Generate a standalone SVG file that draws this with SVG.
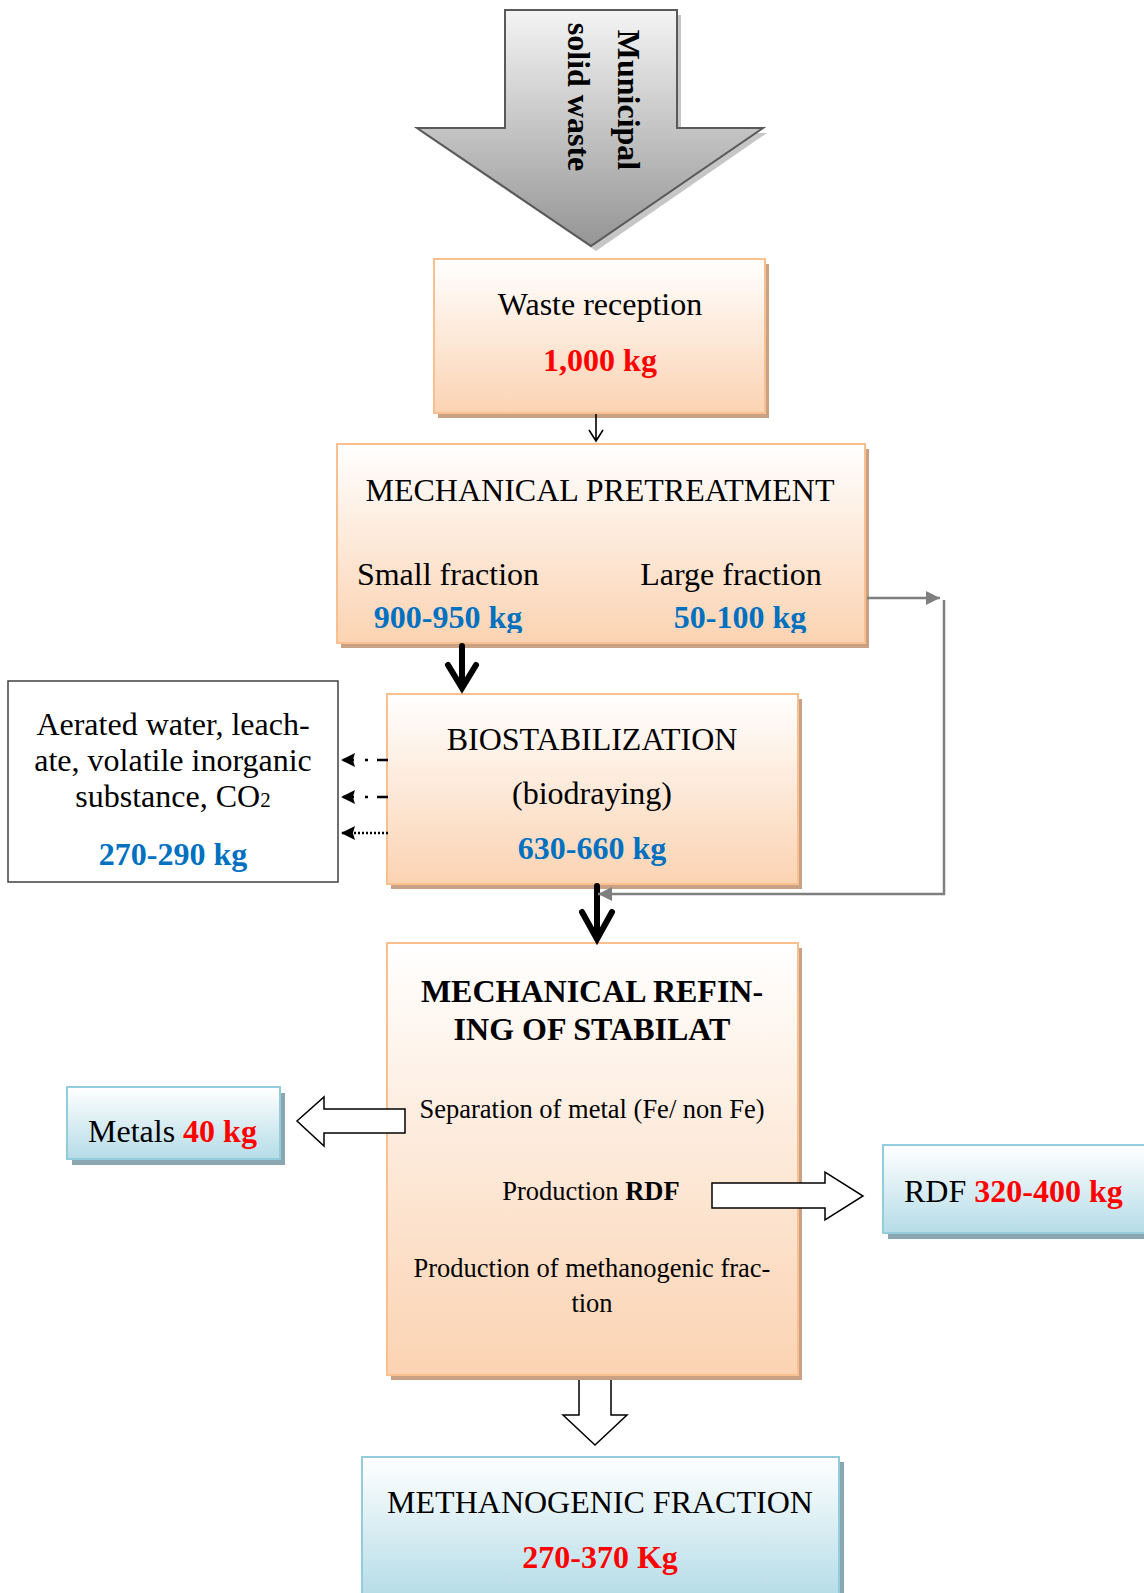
<svg xmlns="http://www.w3.org/2000/svg" width="1144" height="1593" viewBox="0 0 1144 1593">
<defs>
<linearGradient id="gOr" x1="0" y1="0" x2="0" y2="1"><stop offset="0" stop-color="#ffffff"/><stop offset="1" stop-color="#fbd3b2"/></linearGradient>
<linearGradient id="gBl" x1="0" y1="0" x2="0" y2="1"><stop offset="0" stop-color="#ffffff"/><stop offset="1" stop-color="#b5dce7"/></linearGradient>
<linearGradient id="gGr" x1="0" y1="0" x2="0" y2="1"><stop offset="0" stop-color="#f4f4f4"/><stop offset="1" stop-color="#959595"/></linearGradient>
<marker id="mGray" viewBox="0 0 10 10" refX="10" refY="5" markerWidth="16" markerHeight="14" markerUnits="userSpaceOnUse" orient="auto"><path d="M0,0 L10,5 L0,10 z" fill="#7f7f7f"/></marker>
<marker id="mBlk" viewBox="0 0 10 10" refX="10" refY="5" markerWidth="14" markerHeight="14" markerUnits="userSpaceOnUse" orient="auto"><path d="M0,0 L10,5 L0,10 L1.5,5 z" fill="#000"/></marker>
<clipPath id="clipPre"><rect x="337" y="444" width="528" height="189"/></clipPath>
</defs>
<style>
.t{font-family:"Liberation Serif","Times New Roman",serif;font-size:32px;fill:#000}
.b{font-weight:bold}
.red{fill:#ff0000}
.blue{fill:#0070c0}
.sm{font-size:26.5px}
.or{fill:url(#gOr);stroke:#f9bf8f;stroke-width:2}
.orS{fill:#c9a184}
.bl{fill:url(#gBl);stroke:#93cddd;stroke-width:2}
.blS{fill:#8aa6b1}
.hollow{fill:#fff;stroke:#000;stroke-width:1.5}
.thick{fill:none;stroke:#000;stroke-width:6;stroke-linecap:round;stroke-linejoin:miter}
</style>

<g id="input-arrow">
<polygon points="509,15 681,15 681,133 767,133 596,251 422,133 509,133" fill="#c6c6c6"/>
<polygon points="505,10 677,10 677,128 763,128 591,246 417,128 505,128" fill="url(#gGr)" stroke="#595959" stroke-width="2"/>
<text class="t b" font-size="33" text-anchor="middle" transform="translate(618,100) rotate(90)">Municipal</text>
<text class="t b" font-size="33" text-anchor="middle" transform="translate(568,97) rotate(90)">solid waste</text>
</g>

<g id="mech-down-arrow">
<path d="M579,1370 V1415 H563 L595,1445 L627,1415 H611 V1370" class="hollow"/>
</g>

<g id="waste-reception">
<rect x="438" y="264" width="331" height="154" class="orS"/>
<rect x="434" y="259" width="331" height="154" class="or"/>
<text class="t" x="600" y="315" text-anchor="middle">Waste reception</text>
<text class="t b red" x="600" y="371" text-anchor="middle">1,000 kg</text>
</g>

<g id="mechanical-pretreatment">
<rect x="341" y="449" width="528" height="199" class="orS"/>
<rect x="337" y="444" width="528" height="199" class="or"/>
<text class="t" x="600" y="501" font-size="32.5" text-anchor="middle">MECHANICAL PRETREATMENT</text>
<text class="t" x="448" y="585" text-anchor="middle">Small fraction</text>
<text class="t" x="731" y="585" text-anchor="middle">Large fraction</text>
<g clip-path="url(#clipPre)">
<text class="t b blue" x="448" y="628" text-anchor="middle">900-950 kg</text>
<text class="t b blue" x="740" y="628" text-anchor="middle">50-100 kg</text>
</g>
</g>

<g id="emissions">
<rect x="8" y="681" width="330" height="201" fill="#fff" stroke="#404040" stroke-width="1.5"/>
<text class="t" x="173" y="735" text-anchor="middle">Aerated water, leach-</text>
<text class="t" x="173" y="771" text-anchor="middle">ate, volatile inorganic</text>
<text class="t" x="173" y="807" text-anchor="middle">substance, CO<tspan font-size="21">2</tspan></text>
<text class="t b blue" x="173" y="865" text-anchor="middle">270-290 kg</text>
</g>

<g id="biostabilization">
<rect x="391" y="699" width="411" height="190" class="orS"/>
<rect x="387" y="694" width="411" height="190" class="or"/>
<text class="t" x="592" y="750" text-anchor="middle">BIOSTABILIZATION</text>
<text class="t" x="592" y="804" text-anchor="middle">(biodraying)</text>
<text class="t b blue" x="592" y="859" text-anchor="middle">630-660 kg</text>
</g>

<g id="mechanical-refining">
<rect x="391" y="948" width="411" height="432" class="orS"/>
<rect x="387" y="943" width="411" height="432" class="or"/>
<text class="t b" x="592" y="1002" font-size="32.5" text-anchor="middle">MECHANICAL REFIN-</text>
<text class="t b" x="592" y="1040" font-size="32.5" text-anchor="middle">ING OF STABILAT</text>
<text class="t sm" x="592" y="1118" text-anchor="middle">Separation of metal (Fe/ non Fe)</text>
<text class="t sm" x="591" y="1200" text-anchor="middle">Production <tspan class="b">RDF</tspan></text>
<text class="t sm" x="592" y="1277" text-anchor="middle">Production of methanogenic frac-</text>
<text class="t sm" x="592" y="1312" text-anchor="middle">tion</text>
</g>

<g id="metals">
<rect x="72" y="1093" width="213" height="72" class="blS"/>
<rect x="67" y="1087" width="213" height="72" class="bl"/>
<text class="t" x="88" y="1142">Metals <tspan class="b red">40 kg</tspan></text>
</g>

<g id="rdf">
<rect x="888" y="1151" width="262" height="88" class="blS"/>
<rect x="883" y="1145" width="262" height="88" class="bl"/>
<text class="t" x="904" y="1202">RDF <tspan class="b red">320-400 kg</tspan></text>
</g>

<g id="methanogenic-fraction">
<rect x="367" y="1462" width="477" height="140" class="blS"/>
<rect x="362" y="1457" width="477" height="140" class="bl"/>
<text class="t" x="600" y="1513" text-anchor="middle">METHANOGENIC FRACTION</text>
<text class="t b red" x="600" y="1568" text-anchor="middle">270-370 Kg</text>
</g>

<g id="connectors">
<path d="M596,414 V440 M589,430 L596,441 L603,430" fill="none" stroke="#000" stroke-width="1.6"/>
<path d="M462,646 V686 M448,665 L462,688 L476,665" class="thick"/>
<path d="M597,886 V938 M582,912 L597,939 L612,912" class="thick"/>
<path d="M867,598 H940" fill="none" stroke="#7f7f7f" stroke-width="2.5" marker-end="url(#mGray)"/>
<path d="M944,600 V894 H598" fill="none" stroke="#7f7f7f" stroke-width="2.5" marker-end="url(#mGray)"/>
<path d="M388,760 H341" fill="none" stroke="#000" stroke-width="2.4" stroke-dasharray="11 9 3 11" marker-end="url(#mBlk)"/>
<path d="M388,797 H341" fill="none" stroke="#000" stroke-width="2.4" stroke-dasharray="11 9 3 11" marker-end="url(#mBlk)"/>
<path d="M388,833 H341" fill="none" stroke="#000" stroke-width="2.4" stroke-dasharray="2 2" marker-end="url(#mBlk)"/>
<path d="M405,1109 H324 V1097 L297,1121 L324,1146 V1133 H405 Z" class="hollow"/>
<path d="M712,1183 H825 V1172 L863,1196 L825,1220 V1208 H712 Z" class="hollow"/>
</g>
</svg>
